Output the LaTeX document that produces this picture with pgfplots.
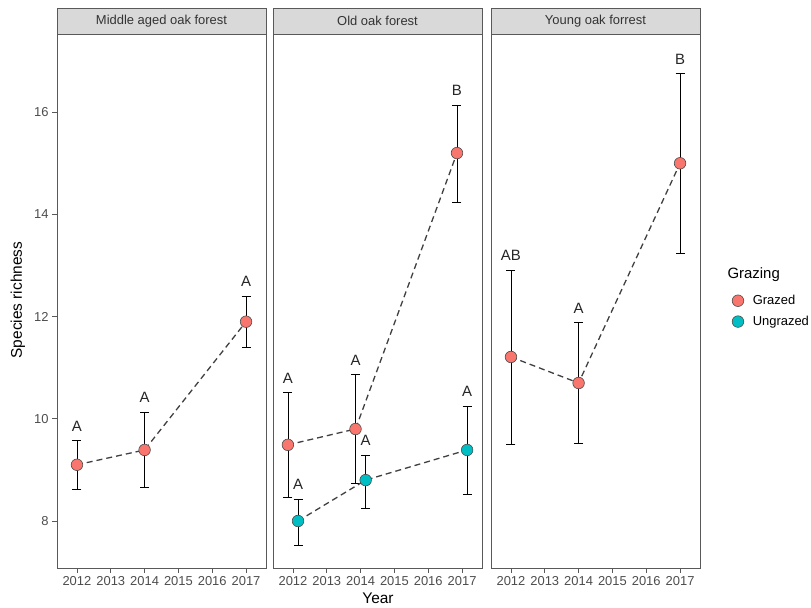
\documentclass[border=0pt]{standalone}
\usepackage{fontspec}
\setmainfont{Liberation Sans}
\usepackage{pgfplots}
\pgfplotsset{compat=1.18}

\definecolor{grazed}{HTML}{F8766D}
\definecolor{ungrazed}{HTML}{00BFC4}
\definecolor{stripfill}{HTML}{D9D9D9}
\definecolor{framecol}{HTML}{595959}
\definecolor{ticktext}{HTML}{4D4D4D}

\pgfplotsset{
  panel/.style={
    scale only axis, width=209bp, height=534bp, anchor=south west,
    xmin=2011.41, xmax=2017.59, ymin=7.08, ymax=17.53,
    xtick={2012,2013,2014,2015,2016,2017},
    xtick pos=bottom, ytick pos=left, tick align=outside,
    major tick length=5bp,
    tick style={framecol, line width=0.6bp},
    axis line style={framecol, line width=0.9bp},
    /pgf/number format/assume math mode=true,
    /pgf/number format/1000 sep={},
    ticklabel style={font=\fontsize{13}{13}\selectfont, text=ticktext},
    clip=false,
  },
  errs/.style={only marks, mark=none, forget plot,
    error bars/.cd, y dir=both, y explicit,
    error bar style={black, line width=0.7bp},
    error mark options={rotate=90, black, mark size=4.5bp, line width=0.7bp}},
  trend/.style={forget plot, draw=black!75, line width=1.3bp, dash pattern=on 6bp off 4bp, mark=none},
  pts/.style={forget plot, only marks, mark=*, mark size=5.8bp,
    mark options={fill=#1, draw=black!70, line width=0.6bp}},
  letters/.style={forget plot, only marks, mark=none, nodes near coords,
    point meta=explicit symbolic,
    nodes near coords style={anchor=south, inner sep=0pt, yshift=9bp,
      font=\fontsize{15}{15}\selectfont, text=black!85}},
}

\newcommand{\strip}[1]{%
  \draw[framecol, line width=0.9bp, fill=stripfill] (rel axis cs:0,1) rectangle ([yshift=26bp]rel axis cs:1,1);
  \node[font=\fontsize{13}{13}\selectfont, text=black!80] at ([yshift=13bp]rel axis cs:0.5,1) {#1};}

\begin{document}
\begin{tikzpicture}
\path[use as bounding box] (0,0) rectangle (811bp,608bp);

% Middle aged oak forest
\begin{axis}[panel, at={(57bp,40bp)}, ytick={8,10,12,14,16}]
  \strip{Middle aged oak forest}
  \addplot[errs] coordinates {
    (2012,9.10) += (0,0.48) -= (0,0.49)
    (2014,9.39) += (0,0.74) -= (0,0.74)
    (2017,11.90) += (0,0.50) -= (0,0.51)
  };
  \addplot[trend] coordinates {(2012,9.10) (2014,9.39) (2017,11.90)};
  \addplot[pts=grazed] coordinates {(2012,9.10) (2014,9.39) (2017,11.90)};
  \addplot[letters] coordinates {(2012,9.58) [A] (2014,10.13) [A] (2017,12.40) [A]};
\end{axis}

% Old oak forest
\begin{axis}[panel, at={(273bp,40bp)}, ytick=\empty]
  \strip{Old oak forest}
  \addplot[errs] coordinates {
    (2011.85,9.49) += (0,1.03) -= (0,1.02)
    (2013.85,9.80) += (0,1.06) -= (0,1.06)
    (2016.85,15.20) += (0,0.94) -= (0,0.96)
  };
  \addplot[errs] coordinates {
    (2012.15,8.00) += (0,0.43) -= (0,0.47)
    (2014.15,8.80) += (0,0.49) -= (0,0.55)
    (2017.15,9.39) += (0,0.86) -= (0,0.86)
  };
  \addplot[trend] coordinates {(2011.85,9.49) (2013.85,9.80) (2016.85,15.20)};
  \addplot[trend] coordinates {(2012.15,8.00) (2014.15,8.80) (2017.15,9.39)};
  \addplot[pts=grazed] coordinates {(2011.85,9.49) (2013.85,9.80) (2016.85,15.20)};
  \addplot[pts=ungrazed] coordinates {(2012.15,8.00) (2014.15,8.80) (2017.15,9.39)};
  \addplot[letters] coordinates {(2011.85,10.52) [A] (2013.85,10.86) [A] (2016.85,16.14) [B]};
  \addplot[letters] coordinates {(2012.15,8.43) [A] (2014.15,9.29) [A] (2017.15,10.25) [A]};
\end{axis}

% Young oak forest
\begin{axis}[panel, at={(491bp,40bp)}, ytick=\empty,
  legend style={at={(axis description cs:1.153,0.481)}, anchor=west, draw=none, fill=none,
    inner sep=0pt, row sep=6bp, font=\fontsize{13}{13}\selectfont,
    /tikz/every odd column/.append style={column sep=7bp}},
  legend cell align=left,
  legend image code/.code={\draw[#1] plot coordinates {(0bp,0bp)};}]
  \strip{Young oak forrest}
  \addplot[errs] coordinates {
    (2012,11.21) += (0,1.70) -= (0,1.72)
    (2014,10.70) += (0,1.19) -= (0,1.19)
    (2017,15.00) += (0,1.76) -= (0,1.76)
  };
  \addplot[trend] coordinates {(2012,11.21) (2014,10.70) (2017,15.00)};
  \addplot[pts=grazed] coordinates {(2012,11.21) (2014,10.70) (2017,15.00)};
  \addplot[letters] coordinates {(2012,12.91) [AB] (2014,11.89) [A] (2017,16.76) [B]};
  \addlegendimage{only marks, mark=*, mark size=5.8bp, mark options={fill=grazed, draw=black!70, line width=0.6bp}}
  \addlegendentry{Grazed}
  \addlegendimage{only marks, mark=*, mark size=5.8bp, mark options={fill=ungrazed, draw=black!70, line width=0.6bp}}
  \addlegendentry{Ungrazed}
\end{axis}

\node[anchor=west, font=\fontsize{15}{15}\selectfont] at (724bp,333bp) {Grazing};
\node[rotate=90, font=\fontsize{15.5}{15.5}\selectfont] at (18bp,308bp) {Species richness};
\node[font=\fontsize{15.5}{15.5}\selectfont] at (378bp,10bp) {Year};
\end{tikzpicture}
\end{document}
